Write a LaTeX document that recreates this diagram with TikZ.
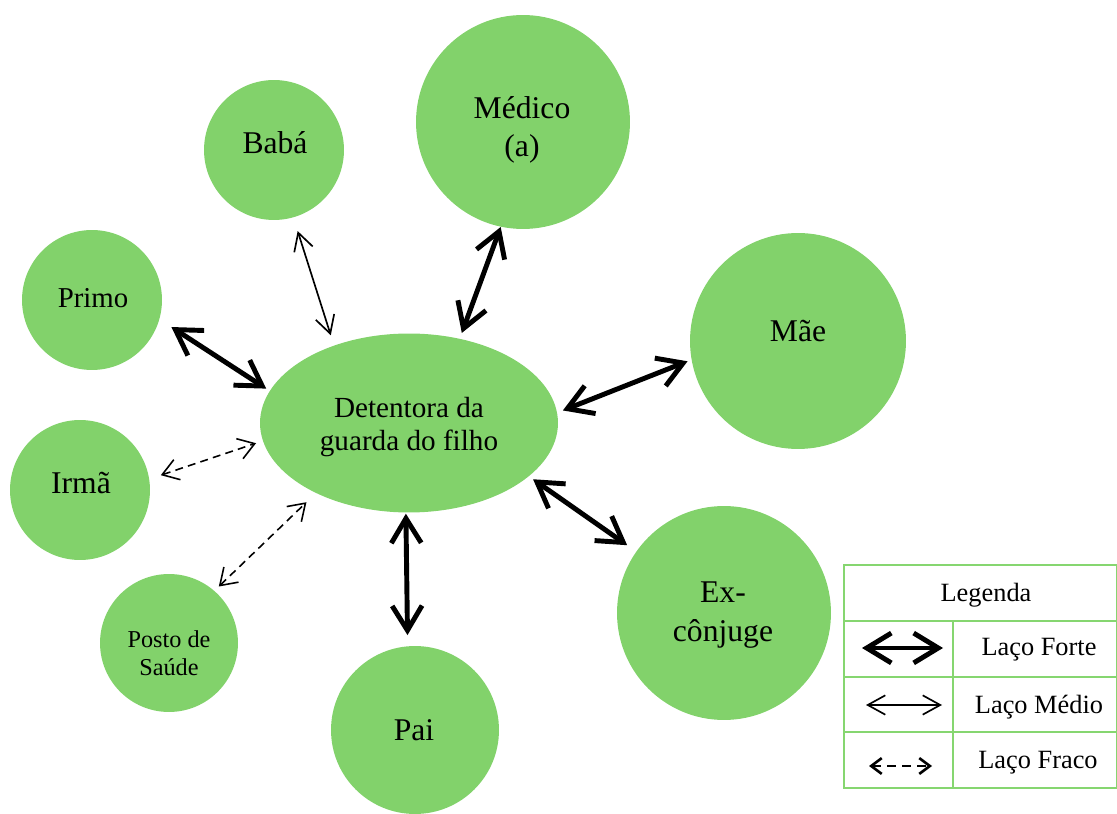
\documentclass[tikz,border=0pt]{standalone}
\usepackage{fontspec}
\setmainfont{Liberation Serif}
\usetikzlibrary{arrows.meta,calc,shapes.geometric}
\definecolor{gfill}{RGB}{130,210,107}
\definecolor{gline}{RGB}{134,214,112}
\begin{document}
\begin{tikzpicture}[x=0.02cm,y=-0.02cm,
  bubble/.style={circle, fill=gfill, inner sep=0pt},
  lbl/.style={align=center, inner sep=0pt, font=\fontsize{18}{21.5}\selectfont},
  strongtie/.style={line width=2.8pt, line cap=round,
    {Straight Barb[length=14pt,width=17pt]}-{Straight Barb[length=14pt,width=17pt]}},
  mediumtie/.style={line width=0.95pt,
    {Straight Barb[length=10pt,width=11pt]}-{Straight Barb[length=10pt,width=11pt]}},
  weaktie/.style={line width=0.9pt, dash pattern=on 4.5pt off 3pt,
    {Straight Barb[length=9pt,width=12pt]}-{Straight Barb[length=9pt,width=12pt]}},
  legweak/.style={line width=1.5pt, dash pattern=on 5pt off 3.5pt,
    {Straight Barb[length=6pt,width=9pt]}-{Straight Barb[length=6pt,width=9pt]}},
  legline/.style={draw=gline, line width=1.2pt},
  legtext/.style={inner sep=0pt, font=\fontsize{15}{18}\selectfont}]
\useasboundingbox (0,0) rectangle (1117,814);

% bubbles
\node[bubble, minimum size=4.28cm] (medico) at (523,122) {};
\node[bubble, minimum size=2.8cm] (baba) at (274,150) {};
\node[bubble, minimum size=2.8cm] (primo) at (92,300) {};
\node[bubble, minimum size=4.32cm] (mae) at (798,341) {};
\node[bubble, minimum size=2.8cm] (irma) at (80,490) {};
\node[bubble, minimum size=2.76cm] (posto) at (169,643) {};
\node[bubble, minimum size=3.36cm] (pai) at (415,730) {};
\node[bubble, minimum size=4.28cm] (ex) at (724,613) {};
\node[ellipse, fill=gfill, inner sep=0pt, minimum width=5.96cm, minimum height=3.58cm] (det) at (409,423) {};

% labels
\node[lbl, font=\fontsize{16.6}{18.5}\selectfont] (det-t) at (409,427) {Detentora da\\guarda do filho};
\node[lbl] (medico-t) at (522,130) {Médico\\(a)};
\node[lbl] (baba-t) at (275,143) {Babá};
\node[lbl, font=\fontsize{16.4}{19}\selectfont] (primo-t) at (93,298) {Primo};
\node[lbl] (mae-t) at (798,331) {Mãe};
\node[lbl] (irma-t) at (81,483) {Irmã};
\node[lbl, font=\fontsize{13.8}{16}\selectfont] (posto-t) at (169,653) {Posto de\\Saúde};
\node[lbl, font=\fontsize{18}{22}\selectfont] (ex-t) at (723,615) {Ex-\\cônjuge};
\node[lbl] (pai-t) at (414,730) {Pai};

% ties
\draw[strongtie, shorten <=0pt, shorten >=3.4pt] (medico.258) -- (det.59);
\draw[mediumtie, shorten <=8pt, shorten >=6pt] (baba.286) -- (det.134.7);
\draw[strongtie, shorten <=8pt, shorten >=2.3pt] (primo.344.8) -- (det.167);
\draw[strongtie, shorten <=2.3pt, shorten >=3.4pt] (mae.190.3) -- (det.4.5);
\draw[weaktie, shorten <=6.8pt, shorten >=4pt] (irma.9.1) -- (det.187.9);
\draw[weaktie, shorten <=3.4pt, shorten >=7.4pt] (posto.49.9) -- (det.217.1);
\draw[strongtie, shorten <=6.2pt, shorten >=0.5pt] (pai.95.4) -- (det.268);
\draw[strongtie, shorten <=6.2pt, shorten >=2.8pt] (ex.145.4) -- (det.336.8);

% legend
\draw[legline] (844,565) rectangle (1117,788);
\draw[legline] (844,621) -- (1117,621);
\draw[legline] (844,677) -- (1117,677);
\draw[legline] (844,732) -- (1117,732);
\draw[legline] (953,621) -- (953,788);
\node[legtext] (leg-title) at (986,595) {Legenda};
\coordinate (lf1) at (862,648);
\coordinate (lf2) at (943,648);
\coordinate (lm1) at (866,705);
\coordinate (lm2) at (942,705);
\coordinate (lw1) at (869,766);
\coordinate (lw2) at (932,766);
\draw[strongtie] (lf1) -- (lf2);
\draw[mediumtie] (lm1) -- (lm2);
\draw[legweak] (lw1) -- (lw2);
\node[legtext] (leg-f) at (1039,650) {Laço Forte};
\node[legtext] (leg-m) at (1039,707) {Laço Médio};
\node[legtext] (leg-w) at (1038,763) {Laço Fraco};
\end{tikzpicture}
\end{document}
